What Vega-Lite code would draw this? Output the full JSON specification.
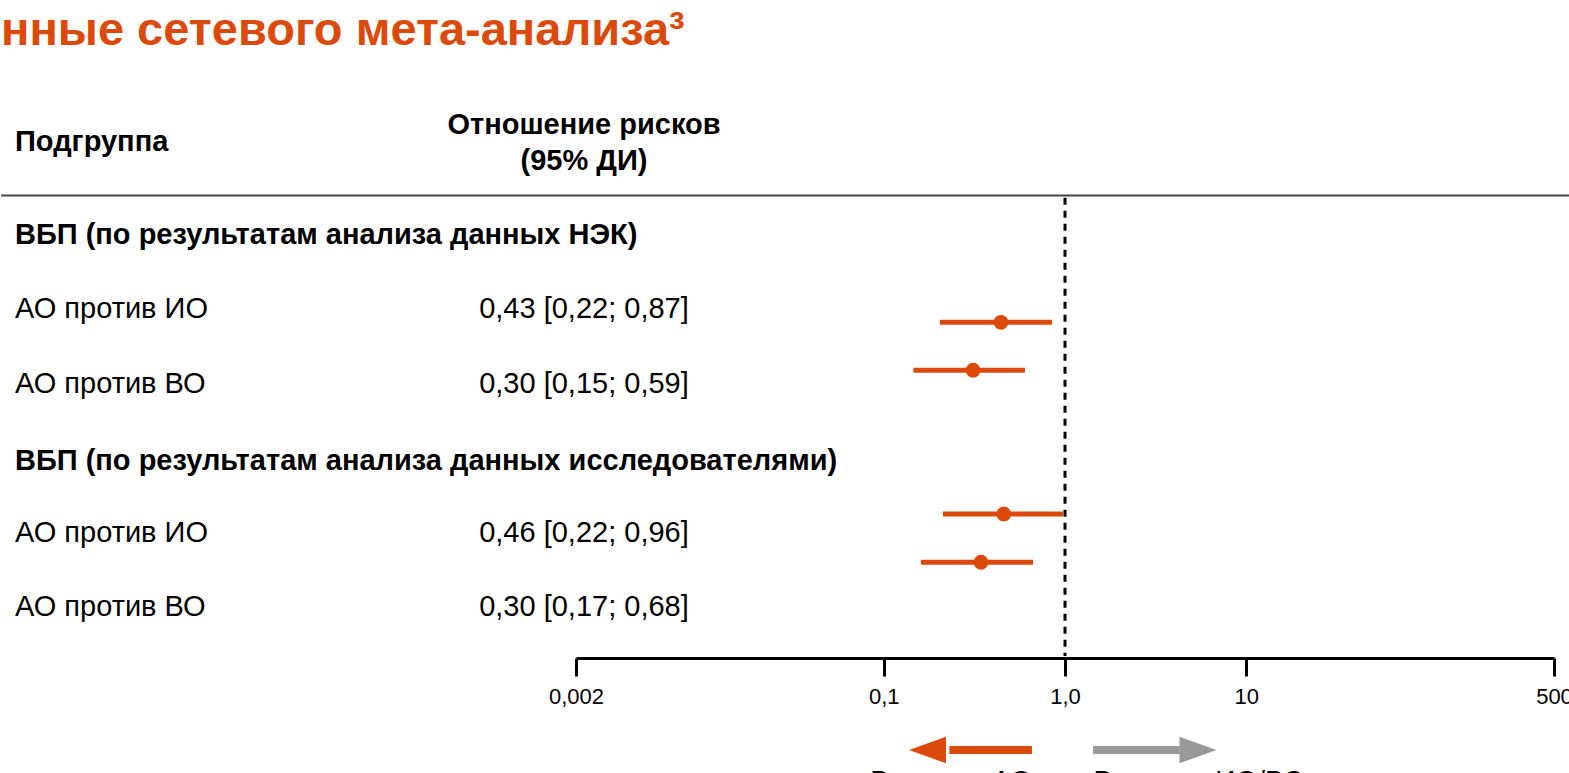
{
  "$schema": "https://vega.github.io/schema/vega-lite/v6.json",
  "padding": 0,
  "spacing": 0,
  "bounds": "flush",
  "background": "white",
  "config": {"view": {"stroke": null}, "font": "Liberation Sans", "text": {"font": "Liberation Sans", "color": "black"}, "concat": {"spacing": 0}},
  "datasets": {
    "forest": [
      {"comparison": "НЭК: АО против ИО", "row": 2.172, "hr": 0.443, "lo": 0.204, "hi": 0.847},
      {"comparison": "НЭК: АО против ВО", "row": 2.816, "hr": 0.311, "lo": 0.1455, "hi": 0.601},
      {"comparison": "Иссл.: АО против ИО", "row": 4.745, "hr": 0.459, "lo": 0.212, "hi": 0.975},
      {"comparison": "Иссл.: АО против ВО", "row": 5.393, "hr": 0.344, "lo": 0.1603, "hi": 0.666}
    ],
    "table": [
      {"kind": "colhead", "col": "sub", "row": -0.247, "text": "Подгруппа"},
      {"kind": "colhead", "col": "ci", "row": -0.475, "text": "Отношение рисков"},
      {"kind": "colhead", "col": "ci", "row": 0.005, "text": "(95% ДИ)"},
      {"kind": "section", "col": "sub", "row": 1, "text": "ВБП (по результатам анализа данных НЭК)"},
      {"kind": "label", "col": "sub", "row": 2, "text": "АО против ИО"},
      {"kind": "ci", "col": "ci", "row": 2, "text": "0,43 [0,22; 0,87]"},
      {"kind": "label", "col": "sub", "row": 3, "text": "АО против ВО"},
      {"kind": "ci", "col": "ci", "row": 3, "text": "0,30 [0,15; 0,59]"},
      {"kind": "section", "col": "sub", "row": 4.04, "text": "ВБП (по результатам анализа данных исследователями)"},
      {"kind": "label", "col": "sub", "row": 5, "text": "АО против ИО"},
      {"kind": "ci", "col": "ci", "row": 5, "text": "0,46 [0,22; 0,96]"},
      {"kind": "label", "col": "sub", "row": 6, "text": "АО против ВО"},
      {"kind": "ci", "col": "ci", "row": 6, "text": "0,30 [0,17; 0,68]"}
    ],
    "arrows": [
      {"dir": "АО", "x0": 0.23, "x1": 0.657, "head": 0.1742, "label": "В пользу АО", "lx": 0.235},
      {"dir": "ИО/ВО", "x0": 1.427, "x1": 4.3, "head": 5.42, "label": "В пользу ИО/ВО", "lx": 5.49}
    ]
  },
  "hconcat": [
    {
      "width": 575,
      "height": 658,
      "layer": [
        {
          "data": {"values": [{"line": "header"}]},
          "mark": {"type": "rule", "color": "#444444", "strokeWidth": 2},
          "encoding": {
            "y": {"datum": 0.47, "type": "quantitative", "scale": {"domain": [-2.154, 6.678], "reverse": true, "nice": false, "zero": false}, "axis": null}
          }
        },
        {
          "data": {"values": [{"title": "нные сетевого мета-анализа³", "col": "sub"}]},
          "mark": {"type": "text", "fontSize": 47, "fontWeight": "bold", "font": "Liberation Sans", "align": "left", "baseline": "alphabetic", "color": "#DC4A0B", "dx": -14},
          "encoding": {
            "x": {"field": "col", "type": "nominal", "scale": {"type": "point", "domain": ["sub", "ci"], "range": [14, 583], "padding": 0}, "axis": null},
            "y": {"datum": -1.55, "type": "quantitative"},
            "text": {"field": "title"}
          }
        },
        {
          "data": {"name": "table"},
          "transform": [{"filter": "(datum.kind == 'colhead' || datum.kind == 'section') && datum.col == 'sub'"}],
          "mark": {"type": "text", "fontSize": 29, "fontWeight": "bold", "baseline": "middle", "align": "left"},
          "encoding": {
            "x": {"field": "col", "type": "nominal"},
            "y": {"field": "row", "type": "quantitative"},
            "text": {"field": "text"}
          }
        },
        {
          "data": {"name": "table"},
          "transform": [{"filter": "datum.kind == 'colhead' && datum.col == 'ci'"}],
          "mark": {"type": "text", "fontSize": 29, "fontWeight": "bold", "baseline": "middle", "align": "center"},
          "encoding": {
            "x": {"field": "col", "type": "nominal"},
            "y": {"field": "row", "type": "quantitative"},
            "text": {"field": "text"}
          }
        },
        {
          "data": {"name": "table"},
          "transform": [{"filter": "datum.kind == 'label'"}],
          "mark": {"type": "text", "fontSize": 29, "baseline": "middle", "align": "left"},
          "encoding": {
            "x": {"field": "col", "type": "nominal"},
            "y": {"field": "row", "type": "quantitative"},
            "text": {"field": "text"}
          }
        },
        {
          "data": {"name": "table"},
          "transform": [{"filter": "datum.kind == 'ci'"}],
          "mark": {"type": "text", "fontSize": 29, "baseline": "middle", "align": "center"},
          "encoding": {
            "x": {"field": "col", "type": "nominal"},
            "y": {"field": "row", "type": "quantitative"},
            "text": {"field": "text"}
          }
        }
      ]
    },
    {
      "width": 994,
      "height": 658,
      "layer": [
        {
          "data": {"values": [{"line": "header"}]},
          "mark": {"type": "rule", "color": "#444444", "strokeWidth": 2},
          "encoding": {
            "y": {"datum": 0.47, "type": "quantitative", "scale": {"domain": [-2.154, 6.678], "reverse": true, "nice": false, "zero": false}, "axis": null}
          }
        },
        {
          "data": {"values": [{"ref": 1}]},
          "mark": {"type": "rule", "color": "black", "strokeWidth": 3, "strokeDash": [7, 6]},
          "encoding": {
            "x": {
              "field": "ref", "type": "quantitative",
              "scale": {"type": "log", "domain": [0.002, 500], "range": [0, 978], "nice": false},
              "axis": {
                "values": [0.002, 0.1, 1, 10, 500],
                "labelExpr": "datum.value < 0.01 ? '0,002' : datum.value < 0.5 ? '0,1' : datum.value < 2 ? '1,0' : datum.value < 50 ? '10' : '500'",
                "grid": false, "title": null,
                "domainColor": "black", "domainWidth": 3,
                "tickColor": "black", "tickWidth": 3, "tickSize": 18,
                "labelFontSize": 22, "labelColor": "black", "labelFont": "Liberation Sans",
                "labelPadding": 10, "labelFlush": false, "labelOverlap": false
              }
            },
            "y": {"datum": 0.5, "type": "quantitative"},
            "y2": {"datum": 6.65}
          }
        },
        {
          "data": {"name": "forest"},
          "mark": {"type": "rule", "color": "#DC4A0B", "strokeWidth": 5},
          "encoding": {
            "x": {"field": "lo", "type": "quantitative"},
            "x2": {"field": "hi"},
            "y": {"field": "row", "type": "quantitative"}
          }
        },
        {
          "data": {"name": "forest"},
          "mark": {"type": "point", "shape": "circle", "filled": true, "size": 220, "color": "#DC4A0B", "opacity": 1},
          "encoding": {
            "x": {"field": "hr", "type": "quantitative"},
            "y": {"field": "row", "type": "quantitative"}
          }
        },
        {
          "data": {"name": "arrows"},
          "mark": {"type": "rule", "strokeWidth": 8},
          "encoding": {
            "x": {"field": "x0", "type": "quantitative"},
            "x2": {"field": "x1"},
            "y": {"datum": 7.913, "type": "quantitative"},
            "color": {"field": "dir", "type": "nominal", "scale": {"domain": ["АО", "ИО/ВО"], "range": ["#DC4A0B", "#999999"]}, "legend": null}
          }
        },
        {
          "data": {"name": "arrows"},
          "mark": {"type": "point", "filled": true, "size": 1369, "opacity": 1, "strokeWidth": 0},
          "encoding": {
            "x": {"field": "head", "type": "quantitative"},
            "y": {"datum": 7.913, "type": "quantitative"},
            "color": {"field": "dir", "type": "nominal", "legend": null},
            "shape": {"field": "dir", "type": "nominal", "scale": {"domain": ["АО", "ИО/ВО"], "range": ["M-1,0L1,-0.72L1,0.72Z", "M1,0L-1,-0.72L-1,0.72Z"]}, "legend": null}
          }
        },
        {
          "data": {"name": "arrows"},
          "mark": {"type": "text", "fontSize": 28, "align": "center", "baseline": "alphabetic", "color": "black"},
          "encoding": {
            "x": {"field": "lx", "type": "quantitative"},
            "y": {"datum": 8.45, "type": "quantitative"},
            "text": {"field": "label"}
          }
        }
      ]
    }
  ]
}
